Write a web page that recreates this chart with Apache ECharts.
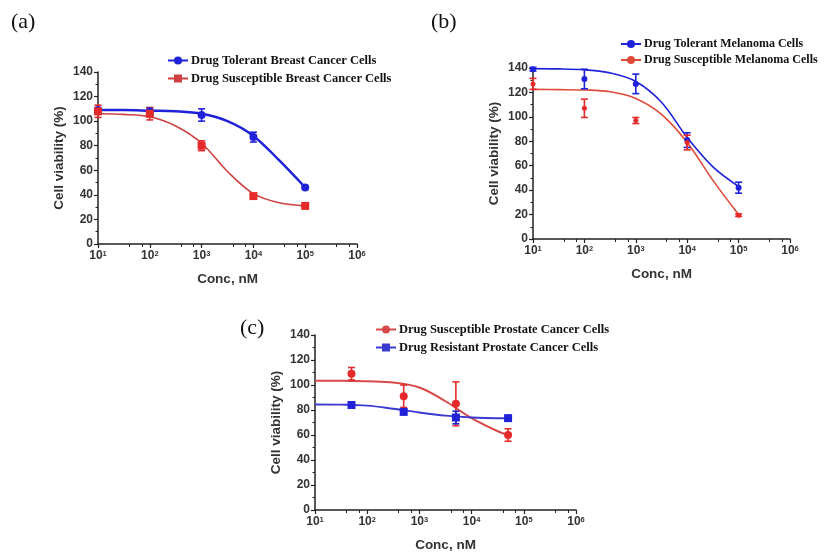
<!DOCTYPE html>
<html><head><meta charset="utf-8">
<script src="https://cdn.jsdelivr.net/npm/echarts@6/dist/echarts.min.js"></script>
<style>html,body{margin:0;padding:0;background:#fff}#c{width:825px;height:556px}</style>
</head><body><div id="c"></div>
<script>
// ---------- data ----------
const xExponents = [1, 2, 3, 4, 5, 6];
const yTickLabels = ['0', '20', '40', '60', '80', '100', '120', '140'];
const panelLabels = ['(a)', '(b)', '(c)'];

// Panel (a) breast cancer
const concA = [10, 100, 1000, 10000, 100000];
const tolBreastMean = [109, 108, 105, 87, 46];
const tolBreastErr = [2, 3, 5, 4, 1];
const susBreastMean = [108, 106, 80, 39, 31];
const susBreastErr = [5, 5, 4, 1.5, 1.5];
const fitXA = [10, 31.6, 100, 316, 1000, 3162, 10000, 31623, 100000];
const tolBreastFit = [109, 109, 108.5, 108, 106, 100, 88, 68, 46];
const susBreastFit = [106, 105.5, 103.5, 96, 82, 59, 41, 33.5, 31];

// Panel (b) melanoma
const concB = [10, 100, 1000, 10000, 100000];
const tolMelMean = [139, 131, 127, 81, 42];
const tolMelErr = [1.5, 8, 8, 6, 4.5];
const susMelMean = [127, 107, 97, 79, 19.5];
const susMelErr = [4.5, 7.5, 2.5, 6, 1];
const fitXB = [10, 31.6, 100, 316, 1000, 3162, 10000, 31623, 100000];
const tolMelFit = [139.5, 139.3, 138.5, 136, 129, 112, 83, 59, 43];
const susMelFit = [122.5, 122.3, 122, 120.5, 115, 102, 79, 48, 20];

// Panel (c) prostate cancer
const concC = [50, 500, 5000, 50000];
const susProMean = [109, 91, 85, 60];
const susProErr = [5, 9, 17.5, 5];
const resProMean = [84, 78.5, 74, 73.5];
const resProErr = [1, 2, 5, 1];
const fitXC = [10, 31.6, 100, 316, 1000, 3162, 10000, 31623, 50000];
const susProFit = [103.5, 103.5, 103, 102, 98, 87, 73.5, 63, 60];
const resProFit = [84.5, 84.3, 83.5, 81, 78, 75.5, 74, 73.5, 73.5];

const legendA = ['Drug Tolerant Breast Cancer Cells', 'Drug Susceptible Breast Cancer Cells'];
const legendB = ['Drug Tolerant Melanoma Cells', 'Drug Susceptible Melanoma Cells'];
const legendC = ['Drug Susceptible Prostate Cancer Cells', 'Drug Resistant Prostate Cancer Cells'];

// ---------- styling ----------
const SANS = 'Liberation Sans, Arial, sans-serif';
const SERIF = 'Liberation Serif, Times New Roman, serif';
const BLUE = '#1f22d8';
const RED = '#e42a2a';
const AXIS = '#222';
const LABEL = '#333';

const grids = [
  { left: 98, top: 72, width: 259, height: 172 },
  { left: 533, top: 68, width: 257, height: 171 },
  { left: 315, top: 335, width: 261, height: 175 }
];

function xAxis(gi) {
  return {
    type: 'log', logBase: 10, gridIndex: gi, min: 10, max: 1000000, splitNumber: 5,
    name: 'Conc, nM', nameLocation: 'middle', nameGap: 28,
    nameTextStyle: { fontFamily: SANS, fontWeight: 'bold', fontSize: 13.5, color: LABEL },
    axisLine: { show: true, lineStyle: { color: AXIS, width: 1.5 } },
    axisTick: { show: true, length: 4, lineStyle: { color: AXIS, width: 1.2 } },
    minorTick: { show: true, splitNumber: 3, length: 3, lineStyle: { color: AXIS, width: 1 } },
    splitLine: { show: false }, minorSplitLine: { show: false },
    axisLabel: {
      margin: 6, showMinLabel: true, showMaxLabel: true,
      formatter: v => {
        const e = Math.round(Math.log10(v));
        return xExponents.indexOf(e) >= 0 ? '{b|10}{s|' + e + '}' : '';
      },
      rich: {
        b: { fontFamily: SANS, fontWeight: 'bold', fontSize: 12, color: LABEL },
        s: { fontFamily: SANS, fontWeight: 'bold', fontSize: 7.5, color: LABEL, verticalAlign: 'top' }
      }
    }
  };
}
function yAxis(gi) {
  return {
    type: 'value', gridIndex: gi, min: 0, max: 140, interval: 20,
    name: 'Cell viability (%)', nameLocation: 'middle', nameGap: 32,
    nameTextStyle: { fontFamily: SANS, fontWeight: 'bold', fontSize: 13.5, color: LABEL },
    axisLine: { show: true, lineStyle: { color: AXIS, width: 1.5 } },
    axisTick: { show: true, length: 4, lineStyle: { color: AXIS, width: 1.2 } },
    minorTick: { show: true, splitNumber: 2, length: 2.5, lineStyle: { color: AXIS, width: 1 } },
    splitLine: { show: false },
    axisLabel: {
      margin: 5, fontFamily: SANS, fontWeight: 'bold', fontSize: 12, color: LABEL,
      formatter: v => yTickLabels[Math.round(v / 20)]
    }
  };
}

function fitSeries(name, gi, xs, ys, color, width, symbol) {
  return {
    name, type: 'line', xAxisIndex: gi, yAxisIndex: gi, smooth: 0.35,
    data: xs.map((x, i) => [x, ys[i]]), showSymbol: false, symbol, symbolSize: 8,
    lineStyle: { color, width }, itemStyle: { color }, z: 2, silent: true
  };
}
function pointSeries(name, gi, xs, ys, color, symbol, size) {
  return {
    name, type: 'scatter', xAxisIndex: gi, yAxisIndex: gi, symbol, symbolSize: size,
    data: xs.map((x, i) => [x, ys[i]]), itemStyle: { color, opacity: 1 }, z: 4
  };
}
function errSeries(name, gi, xs, ys, es, color) {
  return {
    name, type: 'custom', xAxisIndex: gi, yAxisIndex: gi, z: 3, clip: false,
    data: xs.map((x, i) => [x, ys[i], es[i]]),
    encode: { x: 0, y: 1 },
    renderItem: (params, api) => {
      const x = api.value(0), y = api.value(1), e = api.value(2);
      const hi = api.coord([x, y + e]);
      const lo = api.coord([x, y - e]);
      const w = 3.5;
      const st = { stroke: color, lineWidth: 1.6 };
      return {
        type: 'group', children: [
          { type: 'line', shape: { x1: hi[0], y1: hi[1], x2: lo[0], y2: lo[1] }, style: st },
          { type: 'line', shape: { x1: hi[0] - w, y1: hi[1], x2: hi[0] + w, y2: hi[1] }, style: st },
          { type: 'line', shape: { x1: lo[0] - w, y1: lo[1], x2: lo[0] + w, y2: lo[1] }, style: st }
        ]
      };
    }
  };
}

function legend(names, left, top, gap, size) {
  return {
    data: names, orient: 'vertical', left, top, itemGap: gap, itemWidth: 20, itemHeight: 10,
    selectedMode: false,
    textStyle: { fontFamily: SERIF, fontWeight: 'bold', fontSize: size, color: '#111', padding: [0, 0, 0, -2] }
  };
}

const series = [
  // (a)
  fitSeries(legendA[0], 0, fitXA, tolBreastFit, BLUE, 2.5, 'circle'),
  fitSeries(legendA[1], 0, fitXA, susBreastFit, '#cf4040', 1.6, 'rect'),
  errSeries(legendA[0], 0, concA, tolBreastMean, tolBreastErr, BLUE),
  errSeries(legendA[1], 0, concA, susBreastMean, susBreastErr, RED),
  pointSeries(legendA[0], 0, concA, tolBreastMean, BLUE, 'circle', 8),
  pointSeries(legendA[1], 0, concA, susBreastMean, RED, 'rect', 8),
  // (b)
  fitSeries(legendB[0], 1, fitXB, tolMelFit, BLUE, 1.6, 'circle'),
  fitSeries(legendB[1], 1, fitXB, susMelFit, '#e04a3a', 1.6, 'circle'),
  errSeries(legendB[0], 1, concB, tolMelMean, tolMelErr, BLUE),
  errSeries(legendB[1], 1, concB, susMelMean, susMelErr, RED),
  pointSeries(legendB[0], 1, concB, tolMelMean, BLUE, 'circle', 6),
  pointSeries(legendB[1], 1, concB, susMelMean, RED, 'circle', 5),
  // (c)
  fitSeries(legendC[0], 2, fitXC, susProFit, '#d84848', 2, 'circle'),
  fitSeries(legendC[1], 2, fitXC, resProFit, '#3a3ad0', 2, 'rect'),
  errSeries(legendC[0], 2, concC, susProMean, susProErr, RED),
  errSeries(legendC[1], 2, concC, resProMean, resProErr, BLUE),
  pointSeries(legendC[0], 2, concC, susProMean, RED, 'circle', 8),
  pointSeries(legendC[1], 2, concC, resProMean, BLUE, 'rect', 8)
];

const option = {
  animation: false,
  backgroundColor: '#fff',
  grid: grids,
  xAxis: [xAxis(0), xAxis(1), xAxis(2)],
  yAxis: [yAxis(0), yAxis(1), yAxis(2)],
  legend: [legend(legendA, 162, 49, 5, 12.5), legend(legendB, 615, 33, 4, 12), legend(legendC, 370, 318, 5, 12.5)],
  graphic: [
    { type: 'text', left: 11, top: 11, style: { text: panelLabels[0], font: '22px ' + SERIF, fill: '#111' } },
    { type: 'text', left: 431, top: 11, style: { text: panelLabels[1], font: '22px ' + SERIF, fill: '#111' } },
    { type: 'text', left: 240, top: 317, style: { text: panelLabels[2], font: '22px ' + SERIF, fill: '#111' } }
  ],
  series
};

const chart = echarts.init(document.getElementById('c'), null, { renderer: 'canvas' });
chart.setOption(option);
</script></body></html>
